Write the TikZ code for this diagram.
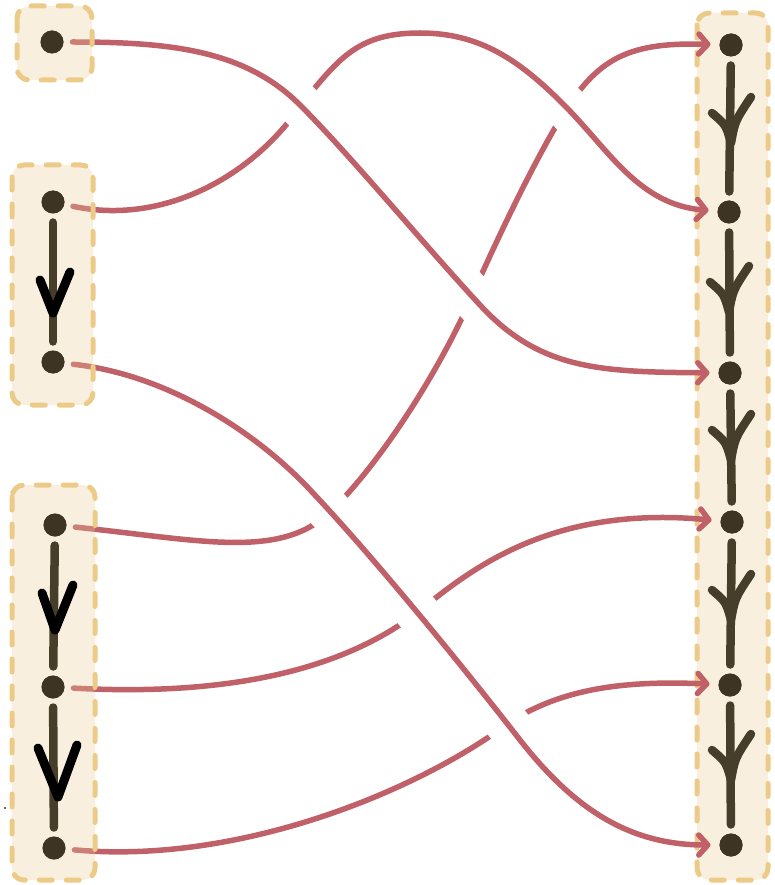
\documentclass[tikz,border=0pt]{standalone}
\usetikzlibrary{arrows.meta}
\definecolor{redc}{RGB}{192,96,104}
\definecolor{dotc}{RGB}{61,52,36}
\definecolor{chainc}{RGB}{70,61,43}
\definecolor{boxfillR}{RGB}{248,239,223}
\definecolor{boxfillL}{RGB}{232,202,148}
\definecolor{boxline}{RGB}{236,202,136}
\newcommand\yhd[2]{\draw[yhead] (#1-19,#2-30) .. controls (#1-5,#2-18) .. (#1,#2) .. controls (#1+4,#2-22) .. (#1+20,#2-46);}
\begin{document}
\begin{tikzpicture}[x=1pt,y=-1pt,
  dotn/.style={circle,fill=dotc,minimum size=23pt,inner sep=0pt,outer sep=9pt},
  redline/.style={draw=redc,line width=5.5pt,line cap=round,line join=round},
  redarrow/.style={redline,-{Straight Barb[length=9pt,width=20pt,round]}},
  halo/.style={draw=white,line width=44pt,shorten <=50pt,shorten >=50pt},
  boxR/.style={fill=boxfillR,draw=boxline,line width=5pt,dash pattern=on 13pt off 14pt,line cap=round,rounded corners=12pt},
  boxL/.style={fill=boxfillL,fill opacity=0.3,draw=boxline,draw opacity=1,line width=5pt,dash pattern=on 13pt off 14pt,line cap=round,rounded corners=12pt},
  chain/.style={draw=chainc,line width=8.5pt,line cap=round},
  yhead/.style={draw=chainc,line width=8.5pt,line cap=round,line join=round},
  vhead/.style={draw=black,line width=9pt,line cap=round,line join=round}]
\useasboundingbox (0,0) rectangle (774,885);
% right box (behind everything)
\draw[boxR] (697,13) rectangle (768,880);
% dots
\node[dotn] (L1) at (52,42) {};
\node[dotn] (L2) at (53,202) {};
\node[dotn] (L3) at (53,362) {};
\node[dotn] (L4) at (55,525) {};
\node[dotn] (L5) at (53,687) {};
\node[dotn] (L6) at (54,848) {};
\node[dotn] (R1) at (731,45) {};
\node[dotn] (R2) at (729,212) {};
\node[dotn] (R3) at (730,373) {};
\node[dotn] (R4) at (732,522) {};
\node[dotn] (R5) at (730,685) {};
\node[dotn] (R6) at (731,845) {};
% paths
\def\pathA{(L1) .. controls (170,42) and (245,50) .. (300,105) .. controls (350,155) and (420,240) .. (480,305) .. controls (540,370) and (600,372) .. (R3)}
\def\pathB{(L2) .. controls (160,225) and (250,180) .. (302,104) .. controls (340,56) and (360,33) .. (420,33) .. controls (480,33) and (520,60) .. (567,108) .. controls (610,152) and (640,205) .. (R2)}
\def\pathC{(L3) .. controls (170,375) and (260,435) .. (313,493) .. controls (365,548) and (450,650) .. (520,740) .. controls (575,810) and (630,845) .. (R6)}
% under curves
\draw[redarrow] (L4) .. controls (200,540) and (280,560) .. (330,512) .. controls (380,464) and (440,370) .. (472,296) .. controls (500,232) and (540,150) .. (567,108) .. controls (600,58) and (630,42) .. (R1);
\draw[redarrow] (L5) .. controls (200,695) and (330,680) .. (418,612) .. controls (470,570) and (550,505) .. (R4);
\draw[redarrow] (L6) .. controls (240,865) and (420,790) .. (510,722) .. controls (560,690) and (620,680) .. (R5);
% over curves
\draw[halo] \pathB;
\draw[redarrow] \pathB;
\draw[halo] \pathA;
\draw[redarrow] \pathA;
\draw[halo] \pathC;
\draw[redarrow] \pathC;
% left boxes
\draw[boxL] (17,6) rectangle (92,80);
\draw[boxL] (12,165) rectangle (93,405);
\draw[boxL] (12,485) rectangle (95,880);
% redraw dots on top
\foreach \n in {L1,L2,L3,L4,L5,L6,R1,R2,R3,R4,R5,R6}{\fill[dotc] (\n) circle (11.5pt);}
% chains
\draw[chain] (L2) -- (L3);
\draw[chain] (L4) -- (L5);
\draw[chain] (L5) -- (L6);
\draw[chain] (R1) -- (R2);
\draw[chain] (R2) -- (R3);
\draw[chain] (R3) -- (R4);
\draw[chain] (R4) -- (R5);
\draw[chain] (R5) -- (R6);
% heads
\draw[vhead] (40,280) -- (53,313) -- (70,272);
\draw[vhead] (42,593) -- (55,630) -- (73,585);
\draw[vhead] (38,748) -- (58,797) -- (77,745);
\yhd{731}{143}
\yhd{729}{312}
\yhd{731}{460}
\yhd{731}{620}
\yhd{731}{780}
\fill[dotc] (5,808) circle (1.2pt);
\end{tikzpicture}
\end{document}
